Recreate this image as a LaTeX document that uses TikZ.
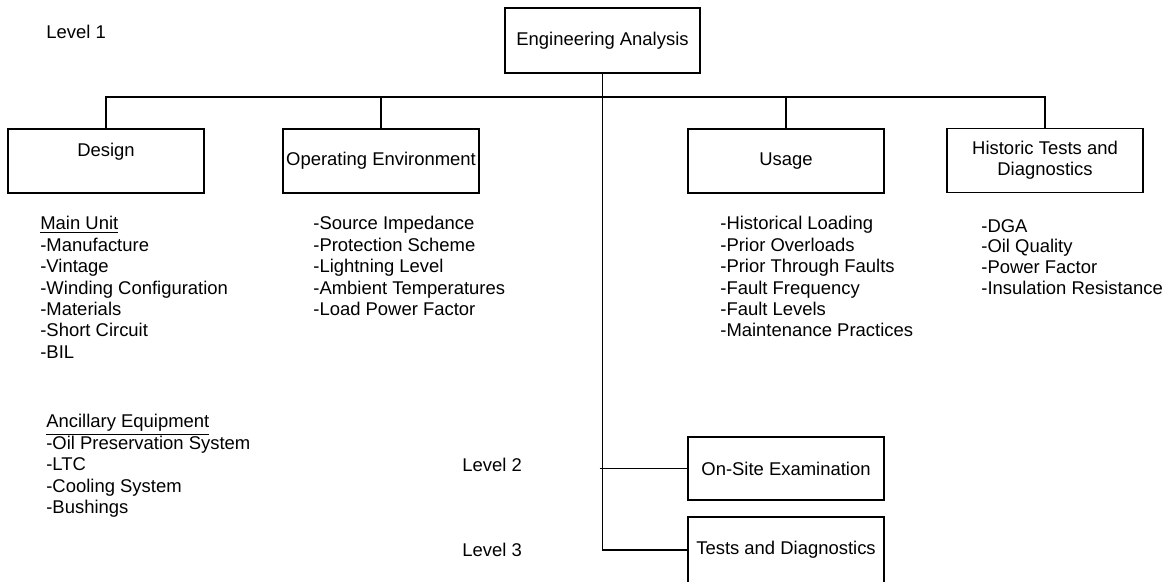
\documentclass[tikz,border=0pt]{standalone}
\usepackage{fontspec}
\setmainfont{Liberation Sans}
\usepackage{tikz}
\tikzstyle{block} = [rectangle, draw, line width=1pt,
    minimum width=3.92cm, minimum height=1.28cm, inner sep=2pt, align=center]
\tikzstyle{itemlist} = [anchor=north west, align=left, inner sep=0pt]
\tikzstyle{lvltext} = [anchor=west, inner sep=0pt]
\tikzstyle{line} = [draw, line width=1pt]

\begin{document}
\begin{tikzpicture}[x=0.02cm, y=-0.02cm, font=\fontsize{10.5}{12.2}\selectfont]
                \useasboundingbox (0,0) rectangle (1172,581);
                % level 1
                \node [lvltext] (lvlone) at (46,32) {Level 1};
                \node [block, minimum width=3.9cm, minimum height=1.3cm] (ea) at (602.5,40.5) {Engineering Analysis};
                \node [block] (design) at (106,161) {Design\\~};
                \node [block] (openv) at (381,161) {Operating Environment};
                \node [block] (usage) at (786,161) {Usage};
                \node [block] (hist) at (1045,160.5) {Historic Tests and\\Diagnostics};
                \coordinate (bus) at (602.5,97);
                % factor lists
                \node [itemlist] (mainunit) at (40,216) {\underline{Main Unit}\\-Manufacture\\-Vintage\\-Winding Configuration\\-Materials\\-Short Circuit\\-BIL};
                \node [itemlist] (ancillary) at (46,414) {\underline{Ancillary Equipment}\\-Oil Preservation System\\-LTC\\-Cooling System\\-Bushings};
                \node [itemlist] (opitems) at (313,216) {-Source Impedance\\-Protection Scheme\\-Lightning Level\\-Ambient Temperatures\\-Load Power Factor};
                \node [itemlist] (useitems) at (720,216) {-Historical Loading\\-Prior Overloads\\-Prior Through Faults\\-Fault Frequency\\-Fault Levels\\-Maintenance Practices};
                \node [itemlist, font=\fontsize{10.5}{11.8}\selectfont] (histitems) at (981,219) {-DGA\\-Oil Quality\\-Power Factor\\-Insulation Resistance};
                % levels 2 and 3
                \node [lvltext] (lvltwo) at (462,465) {Level 2};
                \node [lvltext] (lvlthree) at (462,550) {Level 3};
                \node [block, minimum height=1.25cm] (onsite) at (786,468.5) {On-Site Examination};
                \node [block, minimum height=1.32cm] (tests) at (786,550) {Tests and Diagnostics};
                % connectors
                \path [line] (design.north) -- (design.north |- bus) -- (hist.north |- bus) -- (hist.north);
                \path [line] (openv.north) -- (openv.north |- bus);
                \path [line] (usage.north) -- (usage.north |- bus);
                \path [line] (ea.south) -- (ea.south |- tests.west) -- (tests.west);
                \path [line] ([xshift=-1.7pt]ea.south |- onsite.west) -- (onsite.west);
            \end{tikzpicture}
\end{document}
